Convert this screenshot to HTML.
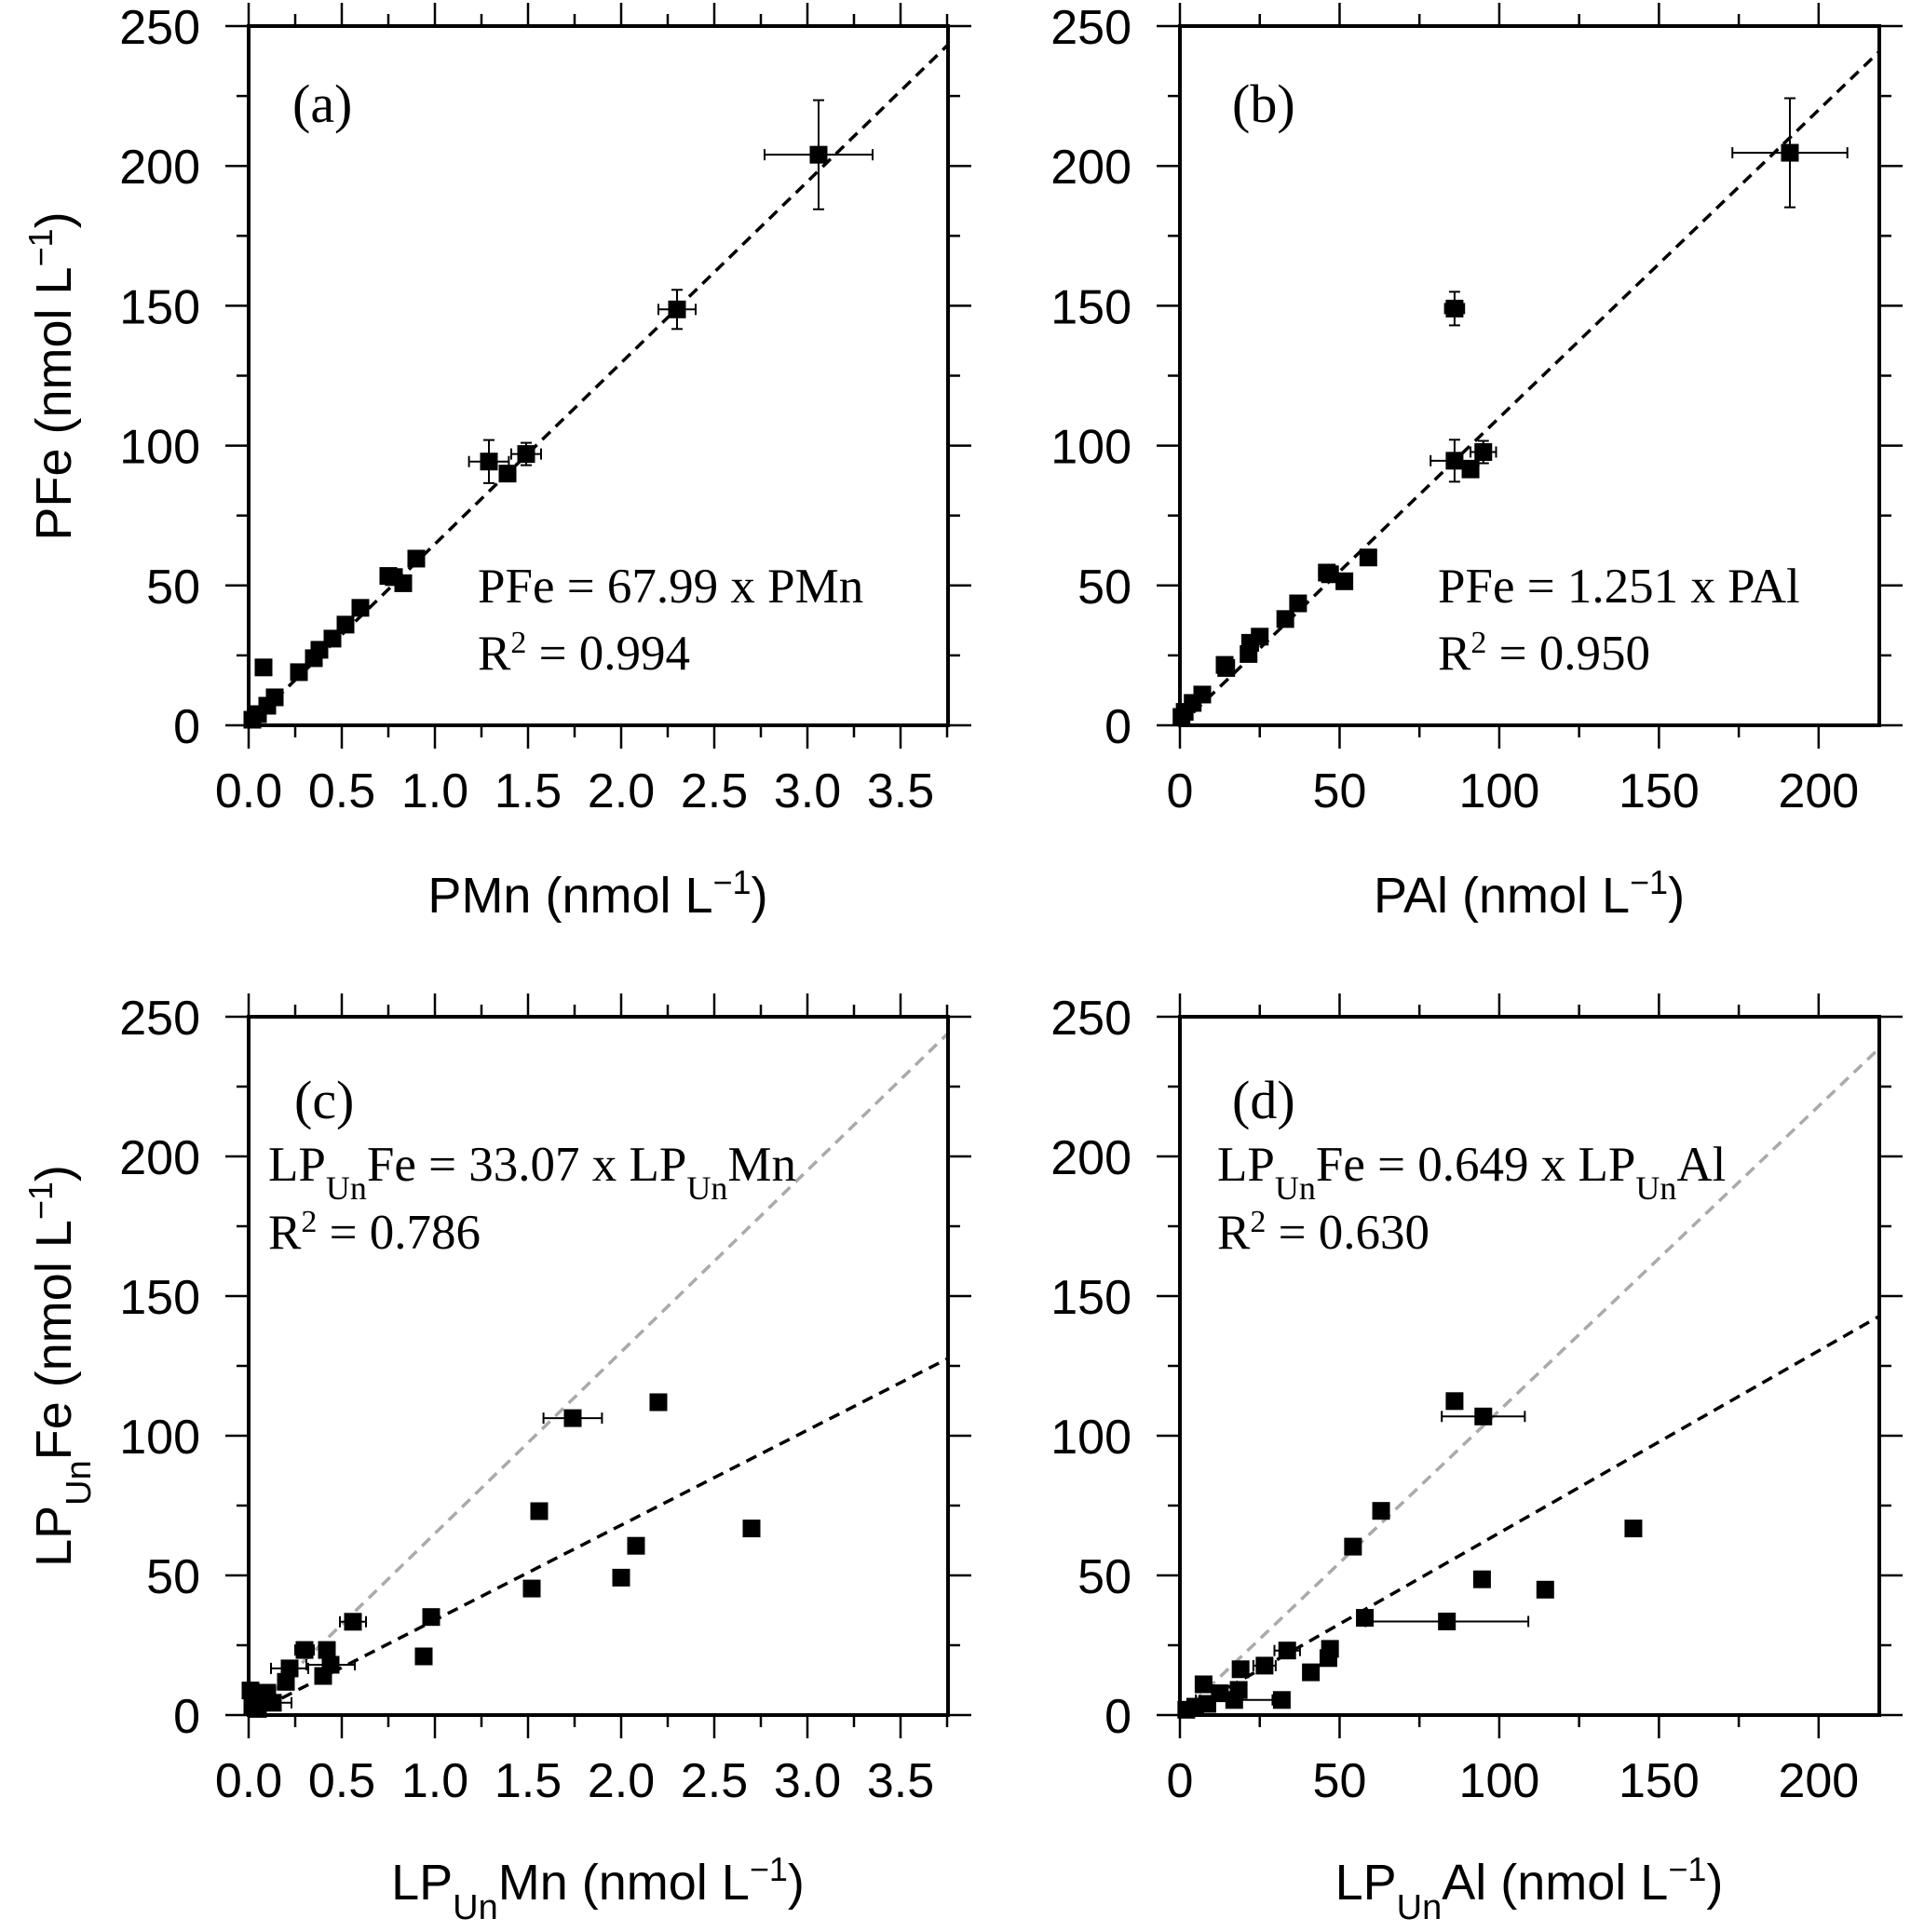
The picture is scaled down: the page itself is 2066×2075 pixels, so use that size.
<!DOCTYPE html>
<html><head><meta charset="utf-8">
<style>
html,body{margin:0;padding:0;background:#fff;}
svg{display:block;}
.tk{font-family:"Liberation Sans",Arial,sans-serif;font-size:52px;fill:#000;}
.tt{font-family:"Liberation Sans",Arial,sans-serif;font-size:54px;fill:#000;}
.an{font-family:"Liberation Serif","Times New Roman",serif;font-size:53px;fill:#000;}
.pl{font-family:"Liberation Serif","Times New Roman",serif;font-size:58px;fill:#000;}
</style></head>
<body>
<svg id="chart" width="2066" height="2075" viewBox="0 0 2066 2075" xmlns="http://www.w3.org/2000/svg"></svg>
<script>
// ---- data: panel (a) PMn vs PFe ----
const aX = [3.06,2.30,1.29,1.49,1.39,0.90,0.83,0.75,0.78,0.60,0.52,0.45,0.38,0.35,0.27,0.08,0.14,0.10,0.05,0.02];
const aY = [204,148.7,94.3,97,90,59.6,50.8,53.4,53,42,36,31,27,24,19,20.7,10,7,4,2];
const aXErr = [0.29,0.10,0.107,0.08,0,0,0,0,0,0,0,0,0,0,0,0,0,0,0,0];
const aYErr = [19.5,7,7.7,4,0,0,0,0,0,0,0,0,0,0,0,0,0,0,0,0];
// ---- panel (b) PAl vs PFe ----
const bX = [191,86,86,95,91,59,51.5,46,47,37,33,25,22,21.5,14,14.5,7,4,1.5,0.5];
const bY = [204.7,149,94.6,97.7,91.5,60,51.5,54.6,54,43.6,38,31.7,29.5,25.5,21.6,20.5,11,8,4.8,3];
const bXErr = [18,3,7.5,4,0,0,0,0,0,0,0,0,0,0,0,0,0,0,0,0];
const bYErr = [19.5,6,7.5,4,0,0,0,0,0,0,0,0,0,0,0,0,0,0,0,0];
// ---- panel (c) LPUnMn vs LPUnFe ----
const cX = [2.20,1.74,1.56,2.70,2.08,2.00,1.52,0.98,0.56,0.94,0.30,0.42,0.44,0.40,0.22,0.20,0.10,0.01,0.02,0.13,0.05];
const cY = [112,106.3,73,66.8,60.6,49.2,45.3,35.1,33.4,21,23.3,23.3,18,14,16.7,11.9,8,8.8,3.5,4.4,2.2];
const cXErr = [0,0.157,0,0,0,0,0,0,0.07,0,0.05,0,0.13,0,0.1,0,0,0,0,0.1,0];
const cYErr = [0,0,0,0,0,0,0,0,0,0,0,0,0,0,0,0,0,0,0,0,0];
// ---- panel (d) LPUnAl vs LPUnFe ----
const dX = [86,95,63,142,54.2,94.6,114.4,57.9,83.6,33.6,47,46.5,41,26.5,19,31.9,7.4,18.4,17,12.5,8.6,4.8,2];
const dY = [112.4,106.9,73.1,66.8,60.3,48.6,44.9,34.8,33.5,23.1,23.7,20.4,15.3,17.7,16.4,5.4,11,9,5.4,7.8,4,3,1.9];
const dXErr = [0,13,0,0,0,0,0,0,25.5,4,0,0,0,3.5,0,0,0,0,12,0,0,0,0];
const dYErr = [0,0,0,0,0,0,0,0,0,0,0,0,0,0,0,0,0,0,0,0,0,0,0];
// fit line slopes (black dashed) and reference (grey dashed)
const blackSlopes = [64.8, 1.10, 34.0, 0.652];
const greySlopes = [null, null, 65.0, 1.09];
const xTicksMn = ["0.0","0.5","1.0","1.5","2.0","2.5","3.0","3.5"];
const xTicksAl = ["0","50","100","150","200"];
const yTicks = ["0","50","100","150","200","250"];

const NS = "http://www.w3.org/2000/svg";
const svg = document.getElementById('chart');
function mk(tag, attrs, parent){
  const e = document.createElementNS(NS, tag);
  for (const k in attrs) e.setAttribute(k, attrs[k]);
  (parent||svg).appendChild(e);
  return e;
}

const panels = [
  {id:'a', L:267, T:28, R:1018, B:779, xmax:3.755, xStep:0.5, xTicks:xTicksMn, X:aX, Y:aY, XE:aXErr, YE:aYErr},
  {id:'b', L:1267, T:28, R:2018, B:779, xmax:219, xStep:50, xTicks:xTicksAl, X:bX, Y:bY, XE:bXErr, YE:bYErr},
  {id:'c', L:267, T:1092, R:1018, B:1842, xmax:3.755, xStep:0.5, xTicks:xTicksMn, X:cX, Y:cY, XE:cXErr, YE:cYErr},
  {id:'d', L:1267, T:1092, R:2018, B:1842, xmax:219, xStep:50, xTicks:xTicksAl, X:dX, Y:dY, XE:dXErr, YE:dYErr}
];

panels.forEach((p, pi) => {
  const g = mk('g', {});
  
  
  const sx = v => p.L + v / p.xmax * (p.R - p.L);
  const sy = v => p.B - v / 250 * (p.B - p.T);
  const cp = mk('clipPath', {id:'clip'+p.id}, g);
  mk('rect', {x:p.L, y:p.T, width:p.R-p.L, height:p.B-p.T}, cp);

  const tg = mk('g', {stroke:'#000','stroke-width':2.5}, g);
  
  
  for (let i = 0; i * p.xStep / 2 <= p.xmax + 1e-9; i++) {
    const x = sx(i * p.xStep / 2);
    const major = i % 2 === 0;
    mk('line', {x1:x, x2:x, y1:p.B, y2:p.B + (major?25:13)}, tg);
    mk('line', {x1:x, x2:x, y1:p.T, y2:p.T - (major?25:13)}, tg);
  }
  for (let i = 0; i <= 10; i++) {
    const y = sy(i * 25);
    const major = i % 2 === 0;
    mk('line', {x1:p.L - (major?25:13), x2:p.L, y1:y, y2:y}, tg);
    mk('line', {x1:p.R, x2:p.R + (major?25:13), y1:y, y2:y}, tg);
  }
  p.xTicks.forEach((lab, i) => {
    const t = mk('text', {x:sx(i * p.xStep), y:p.B + 88, 'text-anchor':'middle', class:'tk'}, g);
    t.textContent = lab;
    
    
  });
  yTicks.forEach((lab, i) => {
    const t = mk('text', {x:p.L - 52, y:sy(i * 50) + 19, 'text-anchor':'end', class:'tk'}, g);
    t.textContent = lab;
    
    
  });

  const lg = mk('g', {'clip-path':'url(#clip'+p.id+')'}, g);
  if (greySlopes[pi] !== null) {
    const gl = mk('line', {x1:sx(0), y1:sy(0), x2:sx(p.xmax), y2:sy(greySlopes[pi]*p.xmax), stroke:'#aaa','stroke-width':3.5,'stroke-dasharray':'12 8'}, lg);
    
    
  }
  const bl = mk('line', {x1:sx(0), y1:sy(0), x2:sx(p.xmax), y2:sy(blackSlopes[pi]*p.xmax), stroke:'#000','stroke-width':3.5,'stroke-dasharray':'12 8'}, lg);
  
  

  const eg = mk('g', {stroke:'#000','stroke-width':2}, g);
  p.X.forEach((xv, i) => {
    const cx = sx(xv), cy = sy(p.Y[i]);
    if (p.XE[i] > 0) {
      const x1 = sx(xv - p.XE[i]), x2 = sx(xv + p.XE[i]);
      mk('line', {x1:x1, x2:x2, y1:cy, y2:cy}, eg);
      mk('line', {x1:x1, x2:x1, y1:cy-6, y2:cy+6}, eg);
      mk('line', {x1:x2, x2:x2, y1:cy-6, y2:cy+6}, eg);
    }
    if (p.YE[i] > 0) {
      const y1 = sy(p.Y[i] - p.YE[i]), y2 = sy(p.Y[i] + p.YE[i]);
      mk('line', {x1:cx, x2:cx, y1:y1, y2:y2}, eg);
      mk('line', {x1:cx-6, x2:cx+6, y1:y1, y2:y1}, eg);
      mk('line', {x1:cx-6, x2:cx+6, y1:y2, y2:y2}, eg);
    }
  });
  p.X.forEach((xv, i) => {
    const r = mk('rect', {x:sx(xv)-9.5, y:sy(p.Y[i])-9.5, width:19, height:19, fill:'#000'}, g);
    
    
  });

  const fr = mk('rect', {x:p.L, y:p.T, width:p.R-p.L, height:p.B-p.T, fill:'none', stroke:'#000','stroke-width':4}, g);
  
  
});
</script>
<svg width="2066" height="2075" viewBox="0 0 2066 2075" style="position:absolute;left:0;top:0">
  <text class="pl" x="314" y="131">(a)</text>
  <text class="pl" x="1323" y="131">(b)</text>
  <text class="pl" x="316" y="1201">(c)</text>
  <text class="pl" x="1323" y="1201">(d)</text>
  <text class="an" x="513" y="647">PFe = 67.99 x PMn</text>
  <text class="an" x="513" y="719">R<tspan baseline-shift="super" font-size="34">2</tspan> = 0.994</text>
  <text class="an" x="1544" y="647">PFe = 1.251 x PAl</text>
  <text class="an" x="1544" y="719">R<tspan baseline-shift="super" font-size="34">2</tspan> = 0.950</text>
  <text class="an" x="288" y="1268">LP<tspan baseline-shift="sub" font-size="36">Un</tspan>Fe = 33.07 x LP<tspan baseline-shift="sub" font-size="36">Un</tspan>Mn</text>
  <text class="an" x="288" y="1341">R<tspan baseline-shift="super" font-size="34">2</tspan> = 0.786</text>
  <text class="an" x="1307" y="1268">LP<tspan baseline-shift="sub" font-size="36">Un</tspan>Fe = 0.649 x LP<tspan baseline-shift="sub" font-size="36">Un</tspan>Al</text>
  <text class="an" x="1307" y="1341">R<tspan baseline-shift="super" font-size="34">2</tspan> = 0.630</text>
  <text class="tt" x="642" y="980" text-anchor="middle">PMn (nmol L<tspan baseline-shift="super" font-size="36">−1</tspan>)</text>
  <text class="tt" x="1642" y="980" text-anchor="middle">PAl (nmol L<tspan baseline-shift="super" font-size="36">−1</tspan>)</text>
  <text class="tt" x="642" y="2040" text-anchor="middle">LP<tspan baseline-shift="sub" font-size="38">Un</tspan>Mn (nmol L<tspan baseline-shift="super" font-size="36">−1</tspan>)</text>
  <text class="tt" x="1642" y="2040" text-anchor="middle">LP<tspan baseline-shift="sub" font-size="38">Un</tspan>Al (nmol L<tspan baseline-shift="super" font-size="36">−1</tspan>)</text>
  <text class="tt" x="0" y="0" text-anchor="middle" transform="translate(76,404) rotate(-90)">PFe (nmol L<tspan baseline-shift="super" font-size="36">−1</tspan>)</text>
  <text class="tt" x="0" y="0" text-anchor="middle" transform="translate(76,1467) rotate(-90)">LP<tspan baseline-shift="sub" font-size="38">Un</tspan>Fe (nmol L<tspan baseline-shift="super" font-size="36">−1</tspan>)</text>
</svg>
</body></html>
